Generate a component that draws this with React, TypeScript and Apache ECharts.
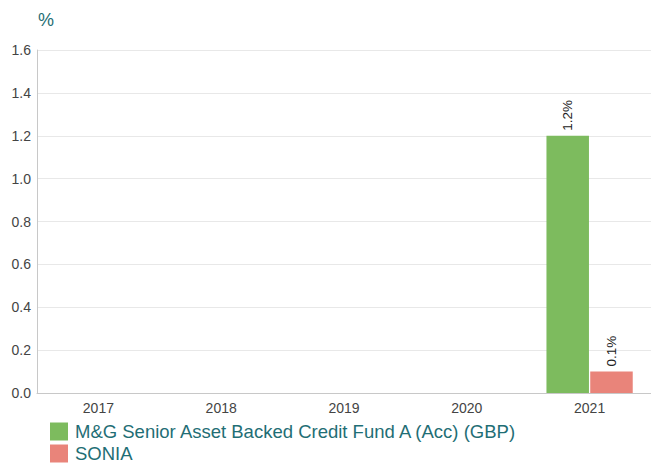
import React, { useEffect, useRef } from "react";
import * as echarts from "echarts";

const categories = ["2017", "2018", "2019", "2020", "2021"];
const fundValues: (number | null)[] = [null, null, null, null, 1.2];
const soniaValues: (number | null)[] = [null, null, null, null, 0.1];
const fundName = "M&G Senior Asset Backed Credit Fund A (Acc) (GBP)";
const soniaName = "SONIA";

export default function App() {
  const ref = useRef<HTMLDivElement>(null);
  useEffect(() => {
    const chart = echarts.init(ref.current!, undefined, { renderer: "svg" });
    const font = "Liberation Sans, Arial, sans-serif";
    const label = {
      show: true,
      position: "top" as const,
      rotate: 90,
      align: "left" as const,
      verticalAlign: "middle" as const,
      distance: 5,
      color: "#222",
      fontSize: 13.5,
      fontFamily: font,
      formatter: (p: any) => `${p.value}%`,
    };
    chart.setOption({
      animation: false,
      textStyle: { fontFamily: font },
      graphic: [
        {
          type: "text",
          left: 38,
          top: 11,
          style: { text: "%", fill: "#1f6e75", fontSize: 18, fontFamily: font },
        },
      ],
      legend: {
        orient: "vertical",
        left: 50,
        top: 422,
        height: 60,
        itemWidth: 18,
        itemHeight: 18,
        itemGap: 3,
        icon: "rect",
        padding: 0,
        textStyle: {
          color: "#1f6e75",
          fontSize: 18.5,
          lineHeight: 18,
          fontFamily: font,
          padding: [0, 0, 0, 2],
        },
        data: [fundName, soniaName],
      },
      grid: { left: 37, right: -5, top: 50, bottom: 70, containLabel: false },
      xAxis: {
        type: "category",
        data: categories,
        axisLine: { lineStyle: { color: "#c8c8c8", width: 1 } },
        axisTick: { show: false },
        axisLabel: { color: "#444", fontSize: 14, fontFamily: font, margin: 8 },
      },
      yAxis: {
        type: "value",
        min: 0,
        max: 1.6,
        interval: 0.2,
        axisLine: { show: true, lineStyle: { color: "#c8c8c8" } },
        axisTick: { show: false },
        splitLine: { lineStyle: { color: "#e8e8e8" } },
        axisLabel: {
          color: "#444",
          fontSize: 14,
          fontFamily: font,
          margin: 6,
          formatter: (v: number) => v.toFixed(1),
        },
      },
      series: [
        {
          name: fundName,
          type: "bar",
          data: fundValues,
          barWidth: 42.5,
          barGap: "3%",
          itemStyle: { color: "#7dbb5e" },
          label,
        },
        {
          name: soniaName,
          type: "bar",
          data: soniaValues,
          barWidth: 42.5,
          itemStyle: { color: "#e9847a" },
          label,
        },
      ],
    });
    return () => chart.dispose();
  }, []);
  return <div ref={ref} style={{ width: 651, height: 463, position: "absolute", left: 0, top: 0 }} />;
}
